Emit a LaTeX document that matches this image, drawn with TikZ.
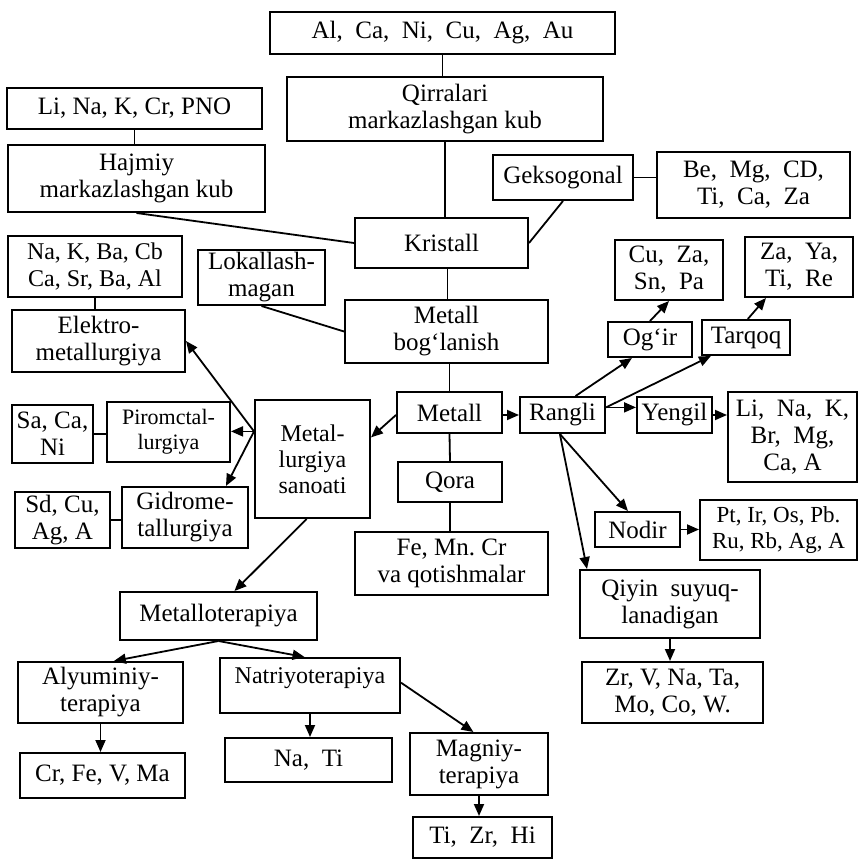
\documentclass[tikz,border=0pt]{standalone}
\usepackage{fontspec}
\setmainfont{Liberation Serif}
\usetikzlibrary{arrows.meta,calc}
\newcommand\bx[6]{\node[box,minimum width=#4pt,minimum height=#5pt] (#1) at (#2,#3) {#6};}
\begin{document}
\begin{tikzpicture}[x=1pt,y=-1pt,
  box/.style={draw, line width=2pt, inner sep=1pt, align=center, font=\fontsize{25}{27}\selectfont},
  lnk/.style={line width=1.8pt},
  arr/.style={line width=1.8pt, -{Triangle[length=12pt,width=10pt]}},
]
\useasboundingbox (0,0) rectangle (865,861);
% nodes
\bx{al}{442.5}{33}{345}{42}{Al,\ \ Ca,\ \ Ni,\ \ Cu,\ \ Ag,\ \ Au}
\bx{qirr}{445}{109}{316}{64}{Qirralari\\markazlashgan kub}
\bx{li}{134.5}{108.5}{255}{41}{Li, Na, K, Cr, PNO}
\bx{hajm}{136.5}{178.5}{257}{67}{Hajmiy\\markazlashgan kub}
\bx{krist}{441.5}{243}{173}{50}{Kristall}
\bx{geks}{563}{177.5}{140}{45}{Geksogonal}
\bx{be}{753.5}{185}{193}{66}{Be,\ \ Mg,\ \ CD,\\Ti,\ \ Ca,\ \ Za}
\bx{cu}{669}{270}{108}{60}{Cu,\ \ Za,\\Sn,\ \ Pa}
\bx{za}{799}{267}{108}{60}{Za,\ \ Ya,\\Ti,\ \ Re}
\node[box,minimum width=174pt,minimum height=61pt,font=\fontsize{24}{27}\selectfont] (nak) at (95,266.5) {Na, K, Ba, Cb\\Ca, Sr, Ba, Al};
\bx{lok}{261.5}{277.5}{127}{55}{Lokallash-\\magan}
\bx{mbog}{446.5}{331.5}{203}{63}{Metall\\bog‘lanish}
\bx{elek}{98.5}{341}{173}{62}{Elektro-\\metallurgiya}
\bx{ogir}{650}{339.5}{84}{35}{Og‘ir}
\bx{tarq}{746}{337.5}{88}{35}{Tarqoq}
\bx{metall}{449.5}{412.5}{105}{41}{Metall}
\bx{rangli}{562.5}{415}{85}{36}{Rangli}
\bx{yeng}{674.5}{415}{75}{36}{Yengil}
\bx{lina}{792.5}{437}{129}{90}{Li,\ \ Na,\ \ K,\\Br,\ \ Mg,\\Ca,\ A}
\node[box,minimum width=115pt,minimum height=118pt,font=\fontsize{24}{26}\selectfont] (mls) at (312.5,459) {Metal-\\lurgiya\\sanoati};
\node[box,minimum width=123pt,minimum height=60pt,font=\fontsize{22}{25}\selectfont] (piro) at (168.5,432) {Piromctal-\\lurgiya};
\bx{saca}{52.5}{434}{81}{58}{Sa, Ca,\\Ni}
\bx{gidro}{185}{517.5}{126}{61}{Gidrome-\\tallurgiya}
\bx{sdcu}{62.5}{520}{95}{56}{Sd, Cu,\\Ag, A}
\bx{qora}{450}{482}{104}{40}{Qora}
\bx{fe}{451.5}{563.5}{193}{63}{Fe,\ Mn.\ Cr\\va qotishmalar}
\bx{nodir}{637.5}{529.5}{85}{35}{Nodir}
\node[box,minimum width=157pt,minimum height=60pt,font=\fontsize{23}{26}\selectfont] (pt) at (778.5,530) {Pt, Ir, Os, Pb.\\Ru, Rb, Ag, A};
\bx{qiyin}{670}{604}{180}{68}{Qiyin\ \ suyuq-\\lanadigan}
\bx{zr}{672.5}{692.5}{181}{61}{Zr, V, Na, Ta,\\Mo, Co, W.}
\bx{mter}{218.5}{616}{197}{48}{Metalloterapiya}
\bx{alyu}{100.5}{692.5}{165}{61}{Alyuminiy-\\terapiya}
\node[box,minimum width=180pt,minimum height=55pt,text depth=20pt,font=\fontsize{24}{25}\selectfont] (natr) at (310,685.5) {Natriyoterapiya};
\bx{crfe}{102.5}{775.5}{165}{45}{Cr,\ Fe, V,\ Ma}
\bx{nati}{308.5}{760}{167}{44}{Na,\ \ Ti}
\bx{magn}{479}{764}{138}{62}{Magniy-\\terapiya}
\bx{tizr}{482.5}{837.5}{139}{41}{Ti,\ \ Zr,\ \ Hi}
% plain links
\draw[lnk] (al.south) -- (al.south |- qirr.north);
\draw[lnk] (qirr.south) -- (qirr.south |- krist.north);
\draw[lnk] (li.south) -- (li.south |- hajm.north);
\draw[lnk] (hajm.south) -- (krist.west);
\draw[lnk] (geks.south) -- (krist.east);
\draw[lnk] (geks.east) -- (geks.east -| be.west);
\draw[lnk] ($(krist.south)+(6,0)$) -- ($(krist.south |- mbog.north)+(6,0)$);
\draw[lnk] (lok.south) -- (mbog.west);
\draw[lnk] (nak.south) -- (nak.south |- elek.north);
\draw[lnk] (metall.north |- mbog.south) -- (metall.north);
\draw[lnk] (metall.south) -- (qora.north);
\draw[lnk] (qora.south) -- (qora.south |- fe.north);
\draw[lnk] (saca.east) -- (saca.east -| piro.west);
\draw[lnk] (sdcu.east) -- (sdcu.east -| gidro.west);
% arrows
\coordinate (mW) at ($(mls.north west)!0.27!(mls.south west)$);
\coordinate (rE) at ($(rangli.north east)!0.3!(rangli.south east)$);
\coordinate (rS) at ($(rangli.south west)!0.47!(rangli.south east)$);
\draw[arr] (rangli.west -| metall.east) -- (rangli.west);
\draw[arr] (metall.west |- rangli.west) -- ($(mls.north east)!0.32!(mls.south east)$);
\draw[arr] (mW) -- (elek.east);
\draw[arr] (mW) -- (mW -| piro.east);
\draw[arr] (mW) -- ($(gidro.north west)!0.82!(gidro.north east)$);
\draw[arr] ($(mls.south west)!0.45!(mls.south east)$) -- ($(mter.north west)!0.58!(mter.north east)$);
\draw[arr] (mter.south) -- ($(alyu.north west)!0.58!(alyu.north east)$);
\draw[arr] (mter.south) -- ($(natr.north west)!0.47!(natr.north east)$);
\draw[arr] (alyu.south) -- (alyu.south |- crfe.north);
\draw[arr] (natr.south) -- (natr.south |- nati.north);
\draw[arr] ($(natr.north east)!0.45!(natr.south east)$) -- ($(magn.north west)!0.46!(magn.north east)$);
\draw[arr] (magn.south) -- (magn.south |- tizr.north);
\draw[arr] ($(rangli.north west)!0.65!(rangli.north east)$) -- ($(ogir.south west)!0.29!(ogir.south east)$);
\draw[arr] (ogir.north) -- ($(cu.south west)!0.5!(cu.south east)$);
\draw[arr] (rE) -- ($(tarq.south west)!0.11!(tarq.south east)$);
\draw[arr] ($(tarq.north west)!0.52!(tarq.north east)$) -- ($(za.south west)!0.2!(za.south east)$);
\draw[arr] (rE) -- (rE -| yeng.west);
\draw[arr] (yeng.east) -- (yeng.east -| lina.west);
\draw[arr] (rS) -- ($(nodir.north west)!0.39!(nodir.north east)$);
\draw[arr] (rS) -- ($(qiyin.north west)!0.044!(qiyin.north east)$);
\draw[arr] (nodir.east) -- (nodir.east -| pt.west);
\draw[arr] (qiyin.south) -- (qiyin.south |- zr.north);
\end{tikzpicture}
\end{document}
